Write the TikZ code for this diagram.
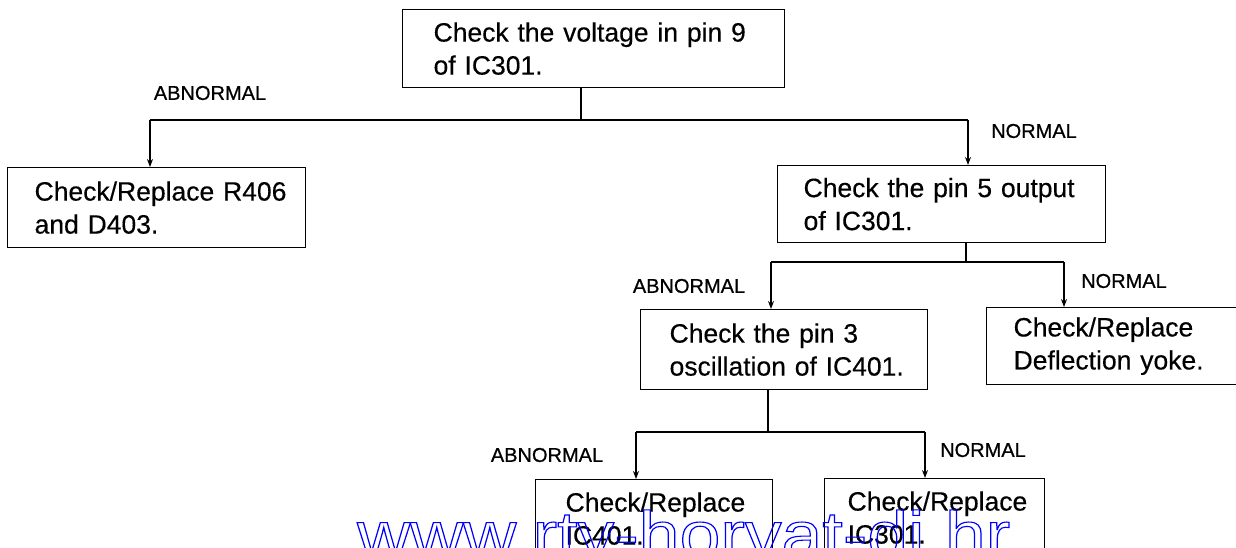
\documentclass[tikz,border=0pt]{standalone}
\usepackage{fontspec}
\setmainfont{Liberation Sans}[FakeBold=0.35]
\newfontfamily\lblfont{Liberation Sans}[FakeBold=0.7]
\newfontfamily\wmfont{Liberation Sans}
\usetikzlibrary{arrows.meta}
\begin{document}
\begin{tikzpicture}[x=1pt,y=-1pt,
  box/.style={draw,line width=1.2pt,anchor=north west,align=left,inner ysep=0pt,
    font=\fontsize{26.5}{33}\selectfont},
  lbl/.style={font=\lblfont\fontsize{20}{24}\selectfont,inner sep=0pt},
  link/.style={line width=1.2pt},
  arr/.style={link,-{Stealth[length=8pt,width=6pt]}}]
\useasboundingbox (0,0) rectangle (1236,548);
% boxes: width W, left offset o -> text width W-2o, inner xsep o
\node[box,minimum height=78pt,inner xsep=31pt,text width=320pt] (b1) at (402,9)
  {\mbox{Check the voltage in pin 9}\\\mbox{of IC301.}};
\node[box,minimum height=80pt,inner xsep=27pt,text width=244pt] (b2) at (7,167)
  {\mbox{Check/Replace R406}\\\mbox{and D403.}};
\node[box,minimum height=77pt,inner xsep=26pt,text width=276pt] (b3) at (777,165)
  {\mbox{Check the pin 5 output}\\\mbox{of IC301.}};
\node[box,minimum height=80pt,inner xsep=29pt,text width=229pt] (b4) at (640,309)
  {\mbox{Check the pin 3}\\\mbox{oscillation of IC401.}};
\node[box,minimum height=77pt,inner xsep=27pt,text width=210pt] (b5) at (986,307)
  {\mbox{Check/Replace}\\\mbox{Deflection yoke.}};
\node[box,minimum height=78pt,inner xsep=30pt,text width=177pt] (b6) at (535,479)
  {\mbox{Check/Replace}\\\mbox{IC401.}};
\node[box,minimum height=78pt,inner xsep=23pt,text width=174pt] (b7) at (824,478)
  {\mbox{Check/Replace}\\\mbox{IC301.}};
% junctions
\coordinate (j1) at (581,120);
\coordinate (a1) at (150,120);
\coordinate (a2) at (968,120);
\coordinate (j2) at (966,262);
\coordinate (a3) at (771,262);
\coordinate (a4) at (1064,262);
\coordinate (j3) at (768,432);
\coordinate (a5) at (636,432);
\coordinate (a6) at (925,432);
% connectors
\draw[link] (j1 |- b1.south) -- (j1);
\draw[link] (a1) -- (a2);
\draw[arr] (a1) -- (a1 |- b2.north);
\draw[arr] (a2) -- (a2 |- b3.north);
\draw[link] (j2 |- b3.south) -- (j2);
\draw[link] (a3) -- (a4);
\draw[arr] (a3) -- (a3 |- b4.north);
\draw[arr] (a4) -- (a4 |- b5.north);
\draw[link] (j3 |- b4.south) -- (j3);
\draw[link] (a5) -- (a6);
\draw[arr] (a5) -- (a5 |- b6.north);
\draw[arr] (a6) -- (a6 |- b7.north);
% labels
\node[lbl] (l1) at (210,93) {ABNORMAL};
\node[lbl] (l2) at (1034,131) {NORMAL};
\node[lbl] (l3) at (689,286) {ABNORMAL};
\node[lbl] (l4) at (1124,281) {NORMAL};
\node[lbl] (l5) at (547,455) {ABNORMAL};
\node[lbl] (l6) at (983,450) {NORMAL};
% watermark
\node[inner sep=0pt,anchor=base west,xscale=1.13,transform shape,
  font=\wmfont\fontsize{65}{70}\selectfont] (wm) at (357,557)
  {\special{pdf:literal direct 1 Tr 1.1 w 0 0 1 RG}www.rtv-horvat-dj.hr\special{pdf:literal direct 0 Tr 0 G}};
\end{tikzpicture}
\end{document}
